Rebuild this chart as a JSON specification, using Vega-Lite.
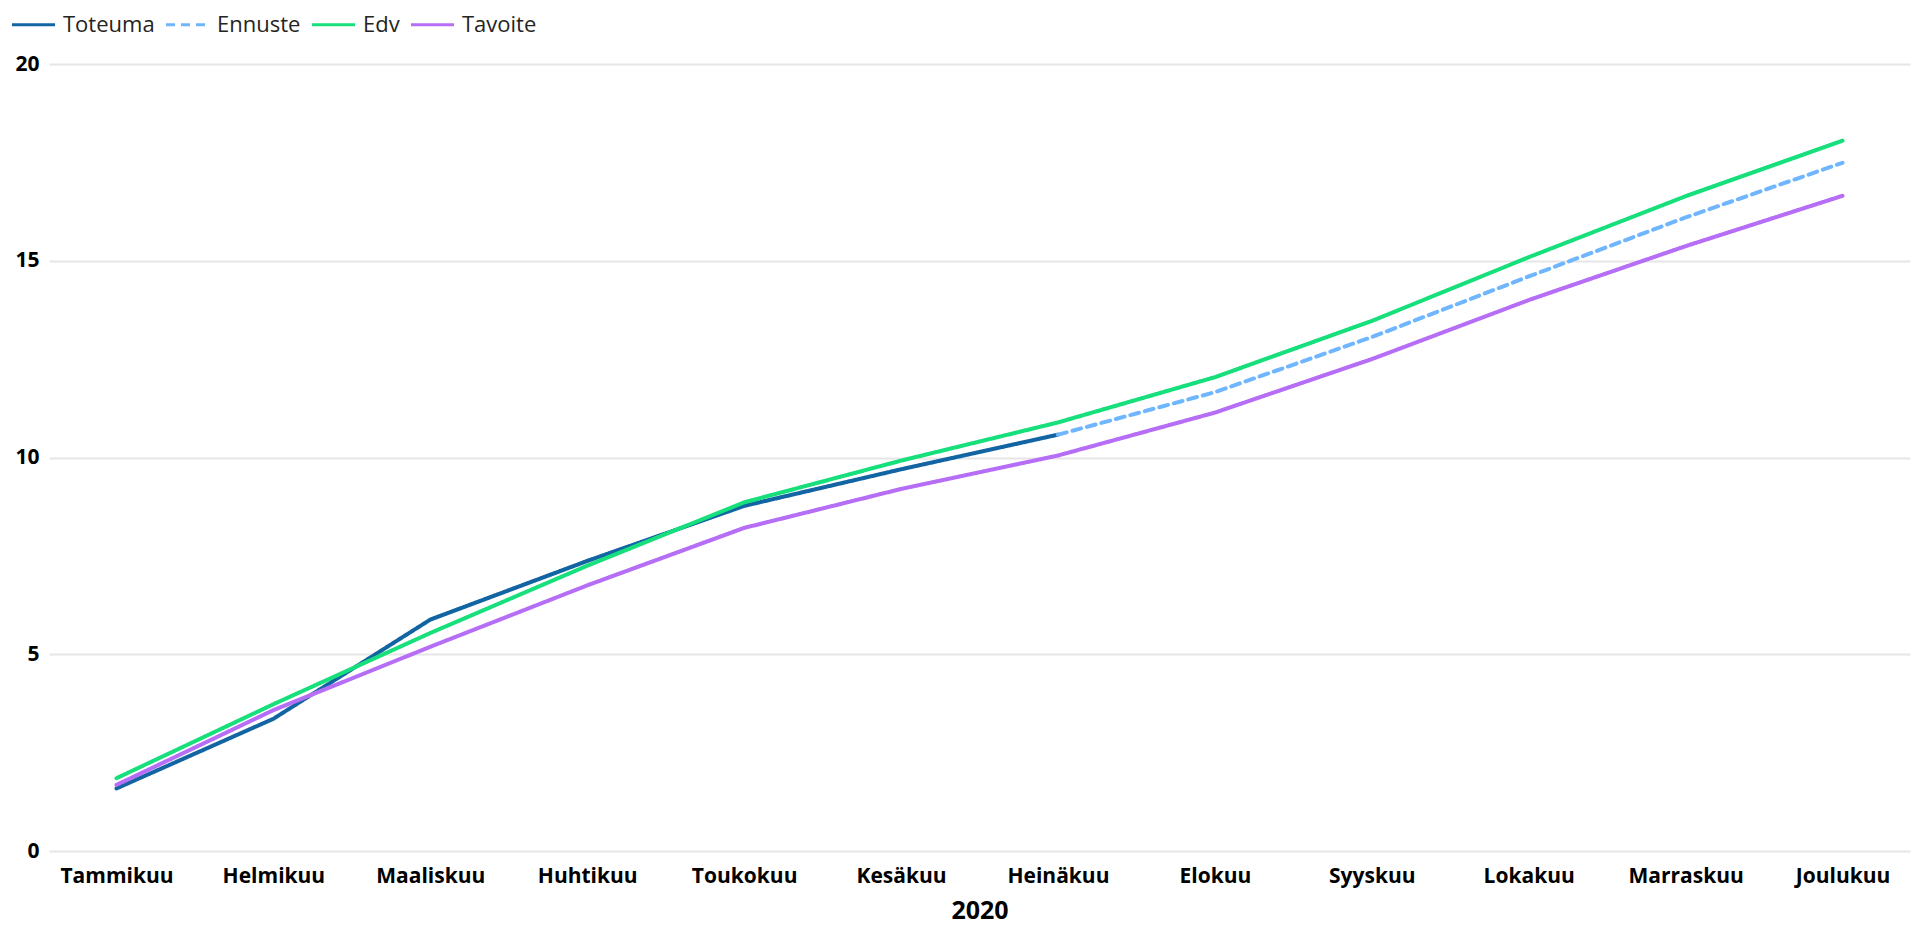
{
  "$schema": "https://vega.github.io/schema/vega-lite/v6.json",
  "width": 1861,
  "height": 787,
  "autosize": {"type": "none"},
  "padding": {"left": 49, "top": 64, "right": 10, "bottom": 101},
  "background": "white",
  "config": {
    "view": {"stroke": null},
    "font": "Open Sans"
  },
  "data": {
    "values": [
      {"kk": "Tammikuu", "i": 1, "sarja": "Toteuma", "arvo": 1.59},
      {"kk": "Helmikuu", "i": 2, "sarja": "Toteuma", "arvo": 3.36},
      {"kk": "Maaliskuu", "i": 3, "sarja": "Toteuma", "arvo": 5.88},
      {"kk": "Huhtikuu", "i": 4, "sarja": "Toteuma", "arvo": 7.37},
      {"kk": "Toukokuu", "i": 5, "sarja": "Toteuma", "arvo": 8.77},
      {"kk": "Kesäkuu", "i": 6, "sarja": "Toteuma", "arvo": 9.7},
      {"kk": "Heinäkuu", "i": 7, "sarja": "Toteuma", "arvo": 10.58},
      {"kk": "Heinäkuu", "i": 7, "sarja": "Ennuste", "arvo": 10.58},
      {"kk": "Elokuu", "i": 8, "sarja": "Ennuste", "arvo": 11.66},
      {"kk": "Syyskuu", "i": 9, "sarja": "Ennuste", "arvo": 13.06},
      {"kk": "Lokakuu", "i": 10, "sarja": "Ennuste", "arvo": 14.6},
      {"kk": "Marraskuu", "i": 11, "sarja": "Ennuste", "arvo": 16.1},
      {"kk": "Joulukuu", "i": 12, "sarja": "Ennuste", "arvo": 17.49},
      {"kk": "Tammikuu", "i": 1, "sarja": "Edv", "arvo": 1.85},
      {"kk": "Helmikuu", "i": 2, "sarja": "Edv", "arvo": 3.73},
      {"kk": "Maaliskuu", "i": 3, "sarja": "Edv", "arvo": 5.54},
      {"kk": "Huhtikuu", "i": 4, "sarja": "Edv", "arvo": 7.25},
      {"kk": "Toukokuu", "i": 5, "sarja": "Edv", "arvo": 8.86},
      {"kk": "Kesäkuu", "i": 6, "sarja": "Edv", "arvo": 9.92},
      {"kk": "Heinäkuu", "i": 7, "sarja": "Edv", "arvo": 10.89},
      {"kk": "Elokuu", "i": 8, "sarja": "Edv", "arvo": 12.04},
      {"kk": "Syyskuu", "i": 9, "sarja": "Edv", "arvo": 13.47},
      {"kk": "Lokakuu", "i": 10, "sarja": "Edv", "arvo": 15.09},
      {"kk": "Marraskuu", "i": 11, "sarja": "Edv", "arvo": 16.64},
      {"kk": "Joulukuu", "i": 12, "sarja": "Edv", "arvo": 18.05},
      {"kk": "Tammikuu", "i": 1, "sarja": "Tavoite", "arvo": 1.68},
      {"kk": "Helmikuu", "i": 2, "sarja": "Tavoite", "arvo": 3.58},
      {"kk": "Maaliskuu", "i": 3, "sarja": "Tavoite", "arvo": 5.19},
      {"kk": "Huhtikuu", "i": 4, "sarja": "Tavoite", "arvo": 6.75},
      {"kk": "Toukokuu", "i": 5, "sarja": "Tavoite", "arvo": 8.21},
      {"kk": "Kesäkuu", "i": 6, "sarja": "Tavoite", "arvo": 9.2},
      {"kk": "Heinäkuu", "i": 7, "sarja": "Tavoite", "arvo": 10.05},
      {"kk": "Elokuu", "i": 8, "sarja": "Tavoite", "arvo": 11.14},
      {"kk": "Syyskuu", "i": 9, "sarja": "Tavoite", "arvo": 12.5},
      {"kk": "Lokakuu", "i": 10, "sarja": "Tavoite", "arvo": 14.0},
      {"kk": "Marraskuu", "i": 11, "sarja": "Tavoite", "arvo": 15.37},
      {"kk": "Joulukuu", "i": 12, "sarja": "Tavoite", "arvo": 16.65}
    ]
  },
  "mark": {"type": "line", "strokeWidth": 4, "strokeCap": "round"},
  "encoding": {
    "x": {
      "field": "kk",
      "type": "ordinal",
      "sort": ["Tammikuu","Helmikuu","Maaliskuu","Huhtikuu","Toukokuu","Kesäkuu","Heinäkuu","Elokuu","Syyskuu","Lokakuu","Marraskuu","Joulukuu"],
      "scale": {"type": "point", "padding": 0.43},
      "title": "2020",
      "axis": {
        "labelAngle": 0,
        "labelFont": "Open Sans",
        "labelFontSize": 21,
        "labelFontWeight": "bold",
        "labelColor": "#000000",
        "labelPadding": 14,
        "ticks": false,
        "domain": false,
        "grid": false,
        "titleFont": "Open Sans",
        "titleFontSize": 25,
        "titleFontWeight": "bold",
        "titleColor": "#000000",
        "titlePadding": 12
      }
    },
    "y": {
      "field": "arvo",
      "type": "quantitative",
      "scale": {"domain": [0, 20], "nice": false},
      "title": null,
      "axis": {
        "values": [0, 5, 10, 15, 20],
        "labelFont": "Open Sans",
        "labelFontSize": 21,
        "labelFontWeight": "bold",
        "labelColor": "#000000",
        "labelPadding": 10,
        "ticks": false,
        "domain": false,
        "grid": true,
        "gridColor": "#e6e6e6",
        "gridWidth": 2
      }
    },
    "color": {
      "field": "sarja",
      "type": "nominal",
      "sort": ["Toteuma", "Ennuste", "Edv", "Tavoite"],
      "scale": {
        "domain": ["Toteuma", "Ennuste", "Edv", "Tavoite"],
        "range": ["#1264a3", "#6fb6ff", "#17df7c", "#b56ef5"]
      },
      "legend": {
        "title": null,
        "orient": "none",
        "legendX": -39,
        "legendY": -63,
        "direction": "horizontal",
        "symbolType": "stroke",
        "symbolSize": 1850,
        "symbolStrokeWidth": 3,
        "labelFont": "Open Sans",
        "labelFontSize": 22,
        "labelColor": "#252423",
        "columnPadding": 4,
        "labelOffset": 6
      }
    },
    "strokeDash": {
      "field": "sarja",
      "type": "nominal",
      "sort": ["Toteuma", "Ennuste", "Edv", "Tavoite"],
      "scale": {
        "domain": ["Toteuma", "Ennuste", "Edv", "Tavoite"],
        "range": [[1, 0], [9, 6], [1, 0], [1, 0]]
      },
      "legend": null
    },
    "order": {"field": "i", "type": "quantitative"}
  }
}
